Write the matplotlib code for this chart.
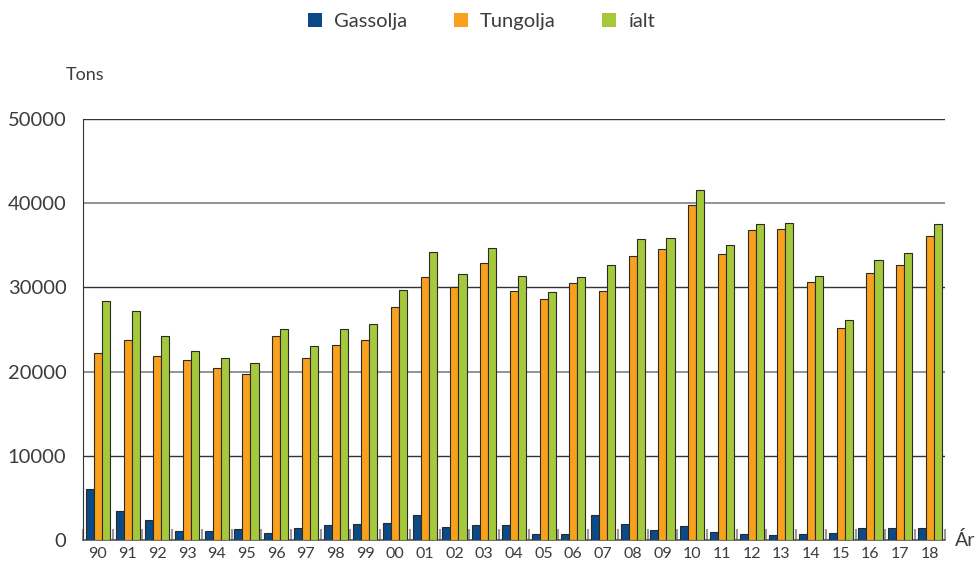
import matplotlib
matplotlib.use("Agg")
import matplotlib.pyplot as plt
import numpy as np

years = ["90","91","92","93","94","95","96","97","98","99","00","01","02","03",
         "04","05","06","07","08","09","10","11","12","13","14","15","16","17","18"]
gassolja = [6020,3440,2370,1030,1070,1260,790,1470,1820,1900,2020,2970,1540,1780,
            1740,670,670,3010,1940,1230,1660,950,710,590,710,830,1430,1390,1430]
tungolja = [22250,23750,21890,21340,20470,19680,24190,21580,23160,23710,27630,31200,30010,32850,
            29530,28660,30480,29570,33730,34560,39790,34000,36780,36940,30600,25180,31710,32660,36070]
ialt = [28350,27240,24270,22410,21620,20980,25020,23080,25020,25620,29650,34240,31590,34640,
        31350,29410,31200,32660,35710,35870,41570,35000,37530,37610,31310,26090,33210,34090,37500]
series_names = ["Gassolja", "Tungolja", "íalt"]
colors = ["#0b4a86", "#f9a11c", "#a5c93b"]
yticks = [0, 10000, 20000, 30000, 40000, 50000]

plt.rcParams['font.family'] = ['Lato', 'DejaVu Sans']
txt = "#3c3c3c"

fig = plt.figure(figsize=(9.77, 5.65), dpi=100)
ax = fig.add_axes([0.085, 0.0442, 0.882, 0.7452])

x = np.arange(len(years))
w = 0.27
handles = []
for i, (vals, name, c) in enumerate(zip([gassolja, tungolja, ialt], series_names, colors)):
    b = ax.bar(x + (i - 1) * w, vals, width=w, color=c, edgecolor="#2a2a2a",
               linewidth=0.8, label=name, zorder=3)
    handles.append(b)

ax.set_xlim(-0.5, len(years) - 0.5)
ax.set_ylim(0, 50000)
ax.set_yticks(yticks)
ax.set_yticklabels([str(v) for v in yticks], fontsize=14.5, color=txt)
for k, v in enumerate(yticks[1:]):
    ax.axhline(v, color="#333333" if k % 2 == 0 else "#8a8a8a",
               linewidth=1.3 if k % 2 == 1 else 1.0, zorder=1)
ax.set_xticks(x)
ax.set_xticklabels(years, fontsize=11.5, color=txt)
ax.set_xticks(np.arange(len(years) + 1) - 0.5, minor=True)
ax.tick_params(axis='x', which='major', length=0, pad=5)
ax.tick_params(axis='x', which='minor', direction='in', length=8, color="#999999", width=1.5)
ax.tick_params(axis='y', length=0, pad=12)

for s in ["top", "right"]:
    ax.spines[s].set_visible(False)
ax.spines["left"].set_color("#333333")
ax.spines["bottom"].set_color("#555555")
ax.spines["bottom"].set_linewidth(1.2)

fig.text(0.067, 0.867, "Tons", fontsize=13, color=txt, ha="left", va="center")
fig.text(0.977, 0.044, "Ár", fontsize=14, color=txt, ha="left", va="center")

leg = fig.legend(handles=handles, labels=series_names, loc="center",
                 bbox_to_anchor=(0.493, 0.962), ncol=3, frameon=False, fontsize=14.5,
                 handlelength=0.7, handleheight=0.7, columnspacing=2.3, handletextpad=0.6)
for t in leg.get_texts():
    t.set_color(txt)
for p in leg.legend_handles:
    p.set_edgecolor("none")

fig.savefig("out.png", dpi=100)
